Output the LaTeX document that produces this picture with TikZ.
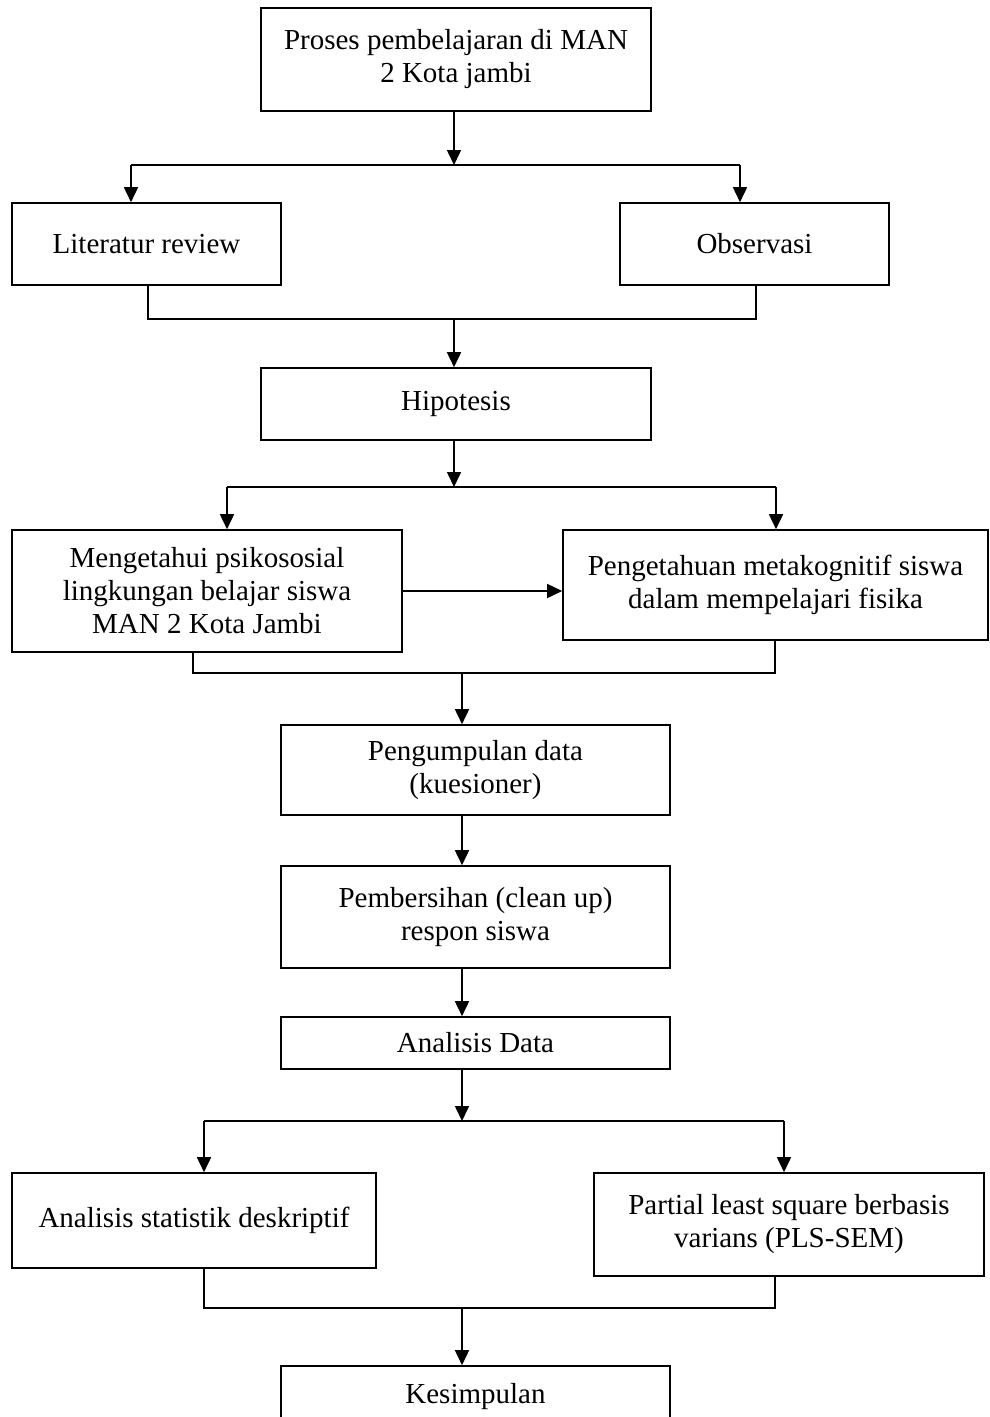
\documentclass[tikz,border=0pt]{standalone}
\usepackage{fontspec}
\setmainfont{Liberation Serif}
\usetikzlibrary{arrows.meta}

\begin{document}
\begin{tikzpicture}[x=1pt, y=-1pt, line width=1.6pt,
  box/.style={draw, inner sep=0pt, align=center, minimum width=389pt, font=\fontsize{29}{33}\selectfont},
  >={Triangle[length=15pt,width=14pt]}]
\useasboundingbox (0,0) rectangle (990,1417);
\node[box, minimum width=390pt, minimum height=103pt] (b1) at (456,59.5) {Proses pembelajaran di MAN\\2 Kota jambi};
\node[box, minimum width=269pt, minimum height=82pt] (lit) at (146.5,244) {Literatur review};
\node[box, minimum width=269pt, minimum height=82pt] (obs) at (754.5,244) {Observasi};
\node[box, minimum width=390pt, minimum height=72pt] (hip) at (456,404) {Hipotesis};
\node[box, minimum width=390pt, minimum height=122pt] (men) at (207,591) {Mengetahui psikososial\\lingkungan belajar siswa\\MAN 2 Kota Jambi};
\node[box, minimum width=425pt, minimum height=110pt] (pen) at (775.5,585) {Pengetahuan metakognitif siswa\\dalam mempelajari fisika};
\node[box, minimum height=90pt] (kue) at (475.5,770) {Pengumpulan data\\(kuesioner)};
\node[box, minimum height=102pt] (cln) at (475.5,917) {Pembersihan (clean up)\\respon siswa};
\node[box, minimum height=52pt] (ana) at (475.5,1043) {Analisis Data};
\node[box, minimum width=364pt, minimum height=95pt] (des) at (194,1220.5) {Analisis statistik deskriptif};
\node[box, minimum width=390pt, minimum height=103pt] (pls) at (789,1224.5) {Partial least square berbasis\\varians (PLS-SEM)};
\node[box, minimum height=62pt] (kes) at (475.5,1397) {Kesimpulan};
% split and join points
\coordinate (s1) at (454,165);
\coordinate (s1a) at (131,165);
\coordinate (s1b) at (740,165);
\coordinate (m1) at (454,319);
\coordinate (m1a) at (148,319);
\coordinate (m1b) at (756,319);
\coordinate (s2) at (454,487);
\coordinate (s2a) at (227,487);
\coordinate (s2b) at (776,487);
\coordinate (m2) at (462,673);
\coordinate (m2a) at (193,673);
\coordinate (m2b) at (775,673);
\coordinate (s3) at (462,1121);
\coordinate (s3a) at (204,1121);
\coordinate (s3b) at (784,1121);
\coordinate (m3) at (462,1308);
\coordinate (m3a) at (204,1308);
\coordinate (m3b) at (775,1308);
\draw[->] (s1 |- b1.south) -- (s1);
\draw (s1a) -- (s1b);
\draw[->] (s1a) -- (s1a |- lit.north);
\draw[->] (s1b) -- (s1b |- obs.north);
\draw (m1a |- lit.south) -- (m1a) -- (m1b) -- (m1b |- obs.south);
\draw[->] (m1) -- (m1 |- hip.north);
\draw[->] (s2 |- hip.south) -- (s2);
\draw (s2a) -- (s2b);
\draw[->] (s2a) -- (s2a |- men.north);
\draw[->] (s2b) -- (s2b |- pen.north);
\draw[->] (men.east) -- (men.east -| pen.west);
\draw (m2a |- men.south) -- (m2a) -- (m2b) -- (m2b |- pen.south);
\draw[->] (m2) -- (m2 |- kue.north);
\draw[->] (m2 |- kue.south) -- (m2 |- cln.north);
\draw[->] (m2 |- cln.south) -- (m2 |- ana.north);
\draw[->] (s3 |- ana.south) -- (s3);
\draw (s3a) -- (s3b);
\draw[->] (s3a) -- (s3a |- des.north);
\draw[->] (s3b) -- (s3b |- pls.north);
\draw (m3a |- des.south) -- (m3a) -- (m3b) -- (m3b |- pls.south);
\draw[->] (m3) -- (m3 |- kes.north);
\end{tikzpicture}
\end{document}
